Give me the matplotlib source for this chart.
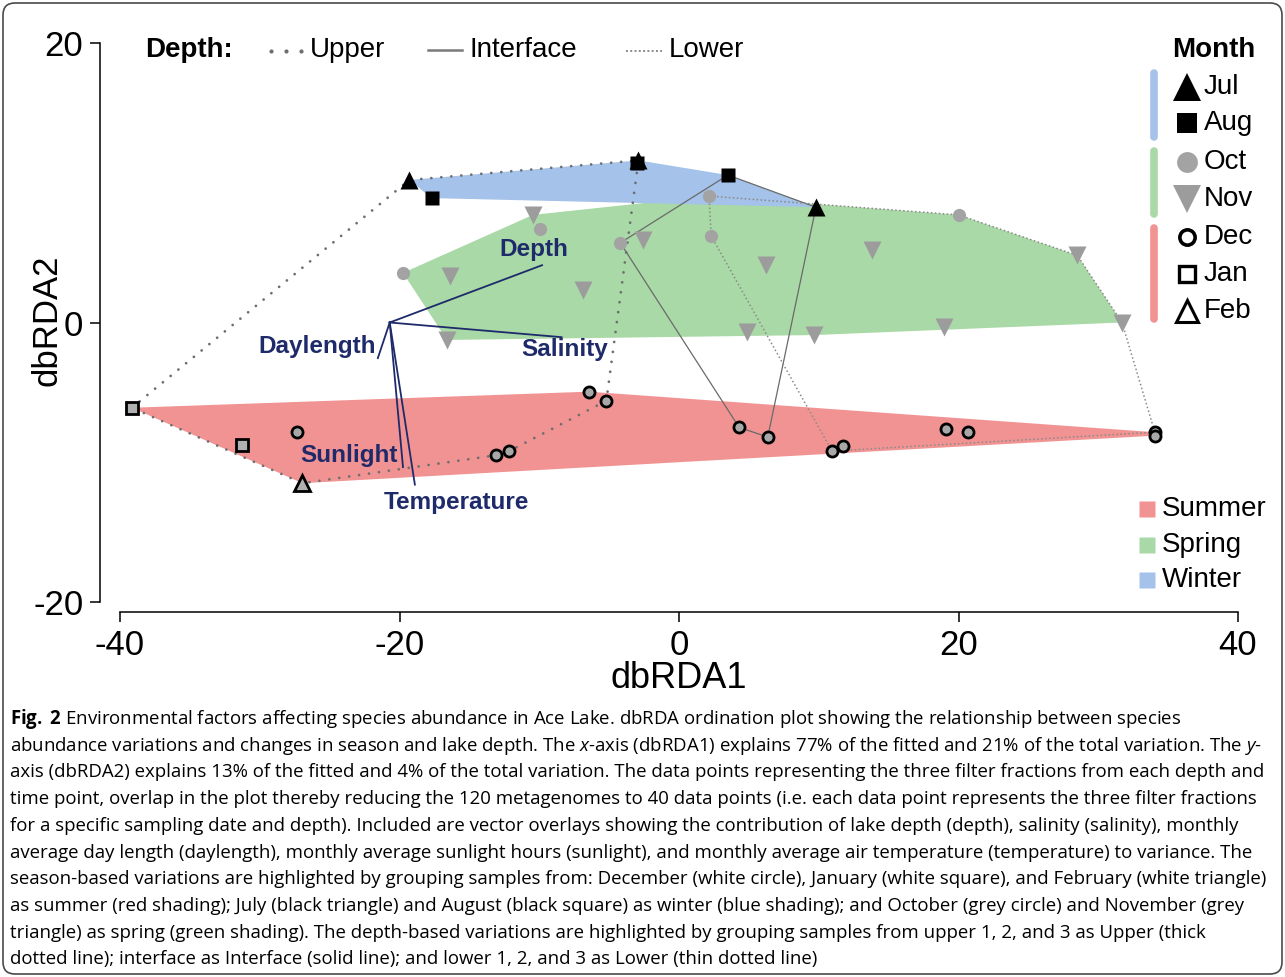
import numpy as np
import matplotlib.pyplot as plt
from matplotlib.patches import FancyBboxPatch

plt.rcParams['font.family'] = ['Liberation Sans', 'DejaVu Sans']
plt.rcParams['axes.unicode_minus'] = False
plt.rcParams['mathtext.fontset'] = 'custom'
plt.rcParams['mathtext.rm'] = 'Open Sans'
plt.rcParams['mathtext.it'] = 'Open Sans:italic'
plt.rcParams['mathtext.bf'] = 'Open Sans:bold'

W, H = 1285, 977

# dbRDA scores (dbRDA1, dbRDA2) per sampling month
jul_x = [-19.3, -2.9, 9.8]
jul_y = [10.2, 11.6, 8.25]
aug_x = [-17.7, -3.0, 3.5]
aug_y = [8.9, 11.4, 10.55]
oct_x = [-19.75, -9.95, -4.2, 2.15, 2.3, 20.0]
oct_y = [3.55, 6.7, 5.7, 9.05, 6.2, 7.7]
nov_x = [-16.4, -10.45, -6.85, -2.6, 6.2, 13.8, 28.5, 31.7, -16.6, 4.9, 9.65, 18.95]
nov_y = [3.3, 7.7, 2.3, 5.9, 4.1, 5.2, 4.8, 0.0, -1.25, -0.7, -0.9, -0.3]
dec_x = [-27.3, -13.1, -12.15, -6.45, -5.2, 4.3, 6.35, 10.95, 11.75, 19.1, 20.7, 34.05, 34.05]
dec_y = [-7.85, -9.5, -9.2, -4.95, -5.6, -7.5, -8.2, -9.2, -8.85, -7.6, -7.85, -7.85, -8.1]
jan_x = [-39.15, -31.3]
jan_y = [-6.1, -8.75]
feb_x = [-26.95]
feb_y = [-11.5]

# depth trajectories through time
upper_x = [-39.15, -19.3, -2.9, -5.2, -12.15, -13.1, -26.95, -39.15]
upper_y = [-6.1, 10.2, 11.6, -5.6, -9.2, -9.5, -11.5, -6.1]
interface_x = [3.5, -4.2, 4.3, 6.35, 9.8, 3.5]
interface_y = [10.55, 5.7, -7.5, -8.2, 8.25, 10.55]
lower_x = [2.15, 20.0, 28.5, 31.7, 34.05, 10.95, 2.3, 2.15]
lower_y = [9.05, 7.7, 4.8, 0.0, -7.85, -9.2, 6.2, 9.05]

# environmental vectors
vec_names = ['Depth', 'Salinity', 'Daylength', 'Sunlight', 'Temperature']
vec_x0, vec_y0 = -20.7, 0.0
vec_dx = [10.9, 12.3, -0.85, 0.95, 1.8]
vec_dy = [4.1, -1.05, -2.55, -10.35, -11.6]
vec_label_pos = {'Depth': (-10.4, 5.2), 'Salinity': (-8.15, -1.95),
                 'Daylength': (-25.9, -1.75), 'Sunlight': (-23.6, -9.55),
                 'Temperature': (-15.95, -12.85)}

caption = [
    r"$\mathbf{Fig.}$ $\mathbf{2}$ Environmental factors affecting species abundance in Ace Lake. dbRDA ordination plot showing the relationship between species",
    r"abundance variations and changes in season and lake depth. The $x$-axis (dbRDA1) explains 77% of the fitted and 21% of the total variation. The $y$-",
    "axis (dbRDA2) explains 13% of the fitted and 4% of the total variation. The data points representing the three filter fractions from each depth and",
    "time point, overlap in the plot thereby reducing the 120 metagenomes to 40 data points (i.e. each data point represents the three filter fractions",
    "for a specific sampling date and depth). Included are vector overlays showing the contribution of lake depth (depth), salinity (salinity), monthly",
    "average day length (daylength), monthly average sunlight hours (sunlight), and monthly average air temperature (temperature) to variance. The",
    "season-based variations are highlighted by grouping samples from: December (white circle), January (white square), and February (white triangle)",
    "as summer (red shading); July (black triangle) and August (black square) as winter (blue shading); and October (grey circle) and November (grey",
    "triangle) as spring (green shading). The depth-based variations are highlighted by grouping samples from upper 1, 2, and 3 as Upper (thick",
    "dotted line); interface as Interface (solid line); and lower 1, 2, and 3 as Lower (thin dotted line)",
]

RED, GREEN, BLUE = '#F29393', '#A9D9A6', '#A5C2EA'
NAVY = '#1E2A6A'
GREY = '#A3A3A3'


def hull(xs, ys):
    pts = sorted(set(zip(xs, ys)))
    if len(pts) < 3:
        return pts

    def cross(o, a, b):
        return (a[0] - o[0]) * (b[1] - o[1]) - (a[1] - o[1]) * (b[0] - o[0])

    lo, up = [], []
    for p in pts:
        while len(lo) >= 2 and cross(lo[-2], lo[-1], p) <= 0:
            lo.pop()
        lo.append(p)
    for p in reversed(pts):
        while len(up) >= 2 and cross(up[-2], up[-1], p) <= 0:
            up.pop()
        up.append(p)
    return lo[:-1] + up[:-1]


fig = plt.figure(figsize=(W / 100, H / 100), dpi=100)
ax = fig.add_axes([120 / W, 1 - 602 / H, 1118 / W, 559 / H])
ax.set_xlim(-40, 40)
ax.set_ylim(-20, 20)

# season hulls
for xs, ys, col in [(dec_x + jan_x + feb_x, dec_y + jan_y + feb_y, RED),
                    (oct_x + nov_x, oct_y + nov_y, GREEN),
                    (jul_x + aug_x, jul_y + aug_y, BLUE)]:
    h = np.array(hull(xs, ys))
    ax.fill(h[:, 0], h[:, 1], color=col, lw=0, zorder=1)

# depth lines
ax.plot(upper_x, upper_y, color='#6E6E6E', lw=2.0, ls=(0, (0.01, 3.6)),
        dash_capstyle='round', zorder=2)
ax.plot(interface_x, interface_y, color='#6A6A6A', lw=0.9, zorder=2)
ax.plot(lower_x, lower_y, color='#8A8A8A', lw=1.1, ls=(0, (1, 1.6)), zorder=2)

# environmental vectors
for name, dx, dy in zip(vec_names, vec_dx, vec_dy):
    ax.plot([vec_x0, vec_x0 + dx], [vec_y0, vec_y0 + dy], color=NAVY, lw=1.3, zorder=3)
    lx, ly = vec_label_pos[name]
    ax.text(lx, ly, name, color=NAVY, fontsize=17.5, fontweight='bold',
            ha='center', va='center', zorder=6)

# sample points
ax.plot(oct_x, oct_y, 'o', ms=9.5, mfc=GREY, mec='none', zorder=4)
ax.plot(nov_x, nov_y, 'v', ms=13, mfc='#9C9C9C', mec='none', zorder=4)
ax.plot(jul_x, jul_y, '^', ms=12.5, mfc='black', mec='none', zorder=5)
ax.plot(aug_x, aug_y, 's', ms=9.5, mfc='black', mec='none', zorder=5)
ax.plot(dec_x, dec_y, 'o', ms=8, mfc='#A8A8A8', mec='black', mew=2.0, zorder=5)
ax.plot(jan_x, jan_y, 's', ms=8, mfc='#B0B0B0', mec='black', mew=2.0, zorder=5)
ax.plot(feb_x, feb_y, '^', ms=11, mfc='#B0B0B0', mec='black', mew=2.0, zorder=5)

# axes styling
for s in ['top', 'right']:
    ax.spines[s].set_visible(False)
ax.spines['left'].set_position(('outward', 14.4))
ax.spines['bottom'].set_position(('outward', 7.2))
for s in ['left', 'bottom']:
    ax.spines[s].set_linewidth(1.1)
ax.set_xticks([-40, -20, 0, 20, 40])
ax.set_yticks([-20, 0, 20])
ax.tick_params(length=7, width=1.1, labelsize=25, pad=5)
ax.patch.set_visible(False)

# overlay in pixel coordinates for legends, labels and caption
lay = fig.add_axes([0, 0, 1, 1])
lay.set_xlim(0, W)
lay.set_ylim(H, 0)
lay.axis('off')

lay.text(679, 678, 'dbRDA1', fontsize=26, ha='center', va='center')
lay.text(47, 320, 'dbRDA2', fontsize=25, ha='center', va='center', rotation=90)

# depth legend
lay.text(145, 50, 'Depth:', fontsize=20, fontweight='bold', ha='left', va='center')
lay.plot([271, 286, 301], [51, 51, 51], 'o', ms=3, color='#6E6E6E', mec='none')
lay.text(310, 50, 'Upper', fontsize=20, ha='left', va='center')
lay.plot([428, 462], [50, 50], color='#7A7A7A', lw=1.8)
lay.text(469, 50, 'Interface', fontsize=20, ha='left', va='center')
lay.plot([626, 662], [51, 51], color='#8A8A8A', lw=1.4, ls=(0, (1, 1.2)))
lay.text(669, 50, 'Lower', fontsize=20, ha='left', va='center')

# month legend
lay.text(1214, 50, 'Month', fontsize=20, fontweight='bold', ha='center', va='center')
for y0, y1, col in [(73, 137, BLUE), (151, 214, GREEN), (228, 319, RED)]:
    lay.plot([1154, 1154], [y0, y1], color=col, lw=5.5, solid_capstyle='round')
months = ['Jul', 'Aug', 'Oct', 'Nov', 'Dec', 'Jan', 'Feb']
rows = [87, 123, 162, 199, 237, 274, 311]
styles = [('^', 20, 'black', 'none', 0), ('s', 14, 'black', 'none', 0),
          ('o', 15, GREY, 'none', 0), ('v', 20, '#9C9C9C', 'none', 0),
          ('o', 11, 'white', 'black', 2.6), ('s', 11.5, 'white', 'black', 2.4),
          ('^', 16, 'white', 'black', 2.2)]
for m, yy, (mk, ms, fc, ec, mw) in zip(months, rows, styles):
    lay.plot([1187], [yy], mk, ms=ms, mfc=fc, mec=ec, mew=mw)
    lay.text(1204, yy, m, fontsize=20, ha='left', va='center')

# season legend
for name, yy, col in [('Summer', 509, RED), ('Spring', 545, GREEN), ('Winter', 580, BLUE)]:
    lay.plot([1147], [yy], 's', ms=11, mfc=col, mec='none')
    lay.text(1162, yy, name, fontsize=20, ha='left', va='center')

# caption
for i, line in enumerate(caption):
    lay.text(10, 719 + i * 26.7, line, fontsize=13.4, family='Open Sans',
             ha='left', va='center')

# outer frame
lay.add_patch(FancyBboxPatch((3, 3), W - 6, H - 6, boxstyle='round,pad=0,rounding_size=12',
                             fill=False, ec='#4A4A4A', lw=1.2))

fig.savefig('out.png', dpi=100)
